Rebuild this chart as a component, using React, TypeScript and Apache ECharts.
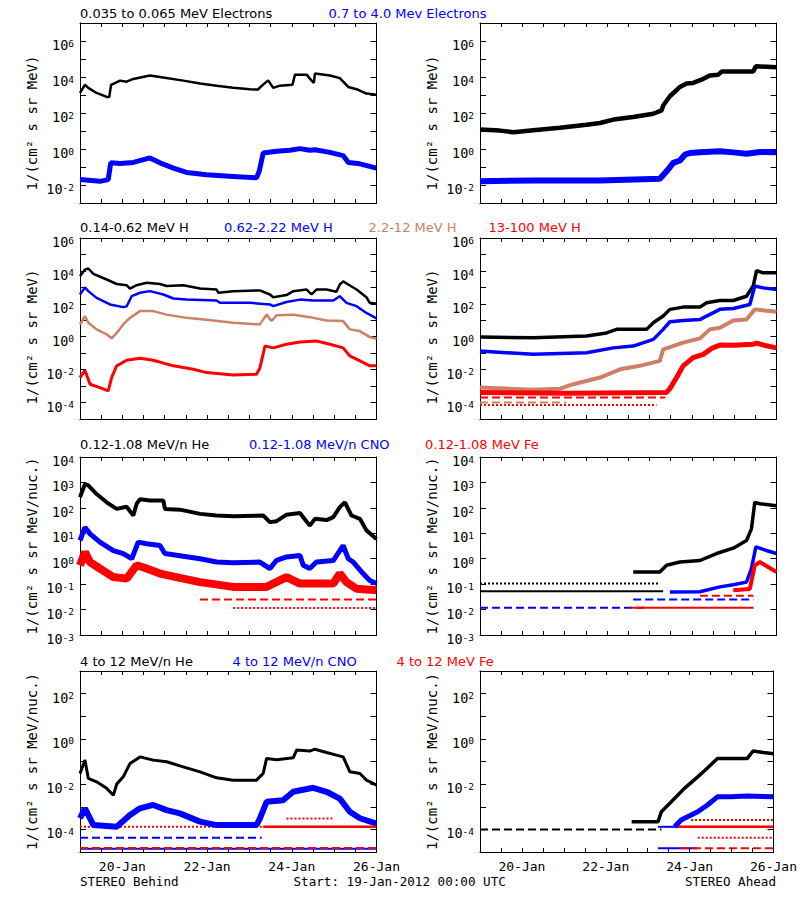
import React, { useEffect, useRef } from 'react';
import * as echarts from 'echarts';

type P = [number, number];

// x: hours since 19-Jan-2012 00:00 UTC, y: intensity

// ---- Row 1: electrons ----
const elecLowB: P[] = [[0,1.3e3],[2.8,3.7e3],[4.7,2.5e3],[9.4,1.3e3],[15.1,7.8e2],[16.6,7.8e2],[17.6,3.7e3],[22.7,6.3e3],[26.4,5.5e3],[30.2,7.8e3],[39.6,1.2e4],[45.3,1.0e4],[58.5,6.3e3],[68,4.3e3],[77.4,3.3e3],[86.8,2.5e3],[96.3,2.1e3],[101.0,2.0e3],[101.9,2.6e3],[106.6,6.5e3],[109.5,2.5e3],[113.3,3.3e3],[120.4,3.7e3],[121.8,1.35e4],[128.4,1.35e4],[131.2,6.3e3],[132.5,4.7e3],[133.1,1.55e4],[141.6,1.2e4],[147.2,8.7e3],[152.0,2.8e3],[156.7,2.1e3],[162.3,1.2e3],[168,1.05e3]];
const elecHighB: P[] = [[0,2.0e-2],[11.3,1.6e-2],[16.0,2.0e-2],[17.4,1.7e-1],[22.7,1.55e-1],[30.2,1.8e-1],[39.6,3.2e-1],[45.3,1.7e-1],[52.9,8.7e-2],[60.4,5.0e-2],[71.7,3.7e-2],[86.8,3.0e-2],[100.0,2.5e-2],[101.6,6.0e-2],[103.8,6.0e-1],[111.4,7.4e-1],[118.9,8.5e-1],[124.6,1.05],[130.2,8.5e-1],[133.1,9.1e-1],[141.6,6.5e-1],[149.1,4.3e-1],[152.0,1.8e-1],[158.6,1.5e-1],[168,8.7e-2]];
const elecLowA: P[] = [[0,1.2e1],[11.3,1.05e1],[18.9,8.5],[30.2,1.1e1],[45.3,1.5e1],[60.4,2.2e1],[68,2.8e1],[75.5,4.3e1],[86.8,6.0e1],[98.2,9.1e1],[102.9,1.4e2],[103.8,2.6e2],[107.6,8.5e2],[113.3,2.8e3],[117.0,4.3e3],[120.8,4.7e3],[125.5,7.1e3],[130.2,1.2e4],[135.0,1.35e4],[136.9,2.0e4],[154.8,2.0e4],[156.3,3.9e4],[168,3.5e4]];
const elecHighA: P[] = [[0,1.6e-2],[30.2,1.8e-2],[68,1.8e-2],[101.9,2.2e-2],[105.7,5.8e-2],[109.5,1.7e-1],[113.3,2.3e-1],[116.1,4.9e-1],[118.9,6.0e-1],[124.6,6.5e-1],[135.9,7.4e-1],[143.5,6.5e-1],[151.0,5.5e-1],[158.6,6.8e-1],[168,6.5e-1]];

// ---- Row 2: protons ----
const h1B: P[] = [[0,4.8e3],[2.8,1.2e4],[4.7,1.4e4],[7.6,6.6e3],[15.1,3.0e3],[20.8,1.6e3],[26.4,1.35e3],[28.3,8.5e2],[32.1,1.35e3],[37.8,1.9e3],[45.3,1.6e3],[49.1,1.2e3],[58.5,1.35e3],[68,8.5e2],[77.4,7.4e2],[78.3,4.7e2],[86.8,5.9e2],[101.9,6.5e2],[107.6,3.7e2],[109.5,2.5e2],[117.0,3.4e2],[120.8,5.9e2],[128.4,7.4e2],[131.2,3.7e2],[134.0,7.4e2],[139.7,7.4e2],[145.3,5.4e2],[147.2,1.5e3],[149.1,2.3e3],[152.0,1.5e3],[156.7,7.4e2],[162.3,2.5e2],[164.2,1.15e2],[168,1.0e2]];
const h2B: P[] = [[0,3.7e2],[2.8,1.0e3],[4.7,5.9e2],[9.4,2.3e2],[17.0,9.1e1],[24.5,6.3e1],[26.4,7.0e1],[29.3,2.9e2],[34.0,4.7e2],[39.6,5.9e2],[47.2,3.7e2],[52.9,2.1e2],[60.4,1.8e2],[77.4,1.6e2],[79.3,1.15e2],[96.3,1.15e2],[107.6,9.1e1],[109.5,7.2e1],[117.0,1.3e2],[124.6,1.8e2],[132.1,1.6e2],[143.5,1.6e2],[147.2,2.9e2],[151.0,1.15e2],[156.7,7.2e1],[162.3,2.8e1],[168,1.3e1]];
const h3B: P[] = [[0,5.6],[2.8,1.8e1],[4.7,7.1],[9.4,2.8],[15.1,1.4],[17.9,8.0e-1],[20.8,1.7],[24.5,5.6],[28.3,1.4e1],[34.0,3.6e1],[41.5,3.6e1],[49.1,2.2e1],[60.4,1.4e1],[75.5,9.8],[86.8,7.1],[101.9,5.6],[105.7,2.2e1],[108.5,9.0],[111.4,2.0e1],[120.8,2.2e1],[130.2,1.55e1],[139.7,9.8],[149.1,8.9],[152.9,2.8],[158.6,2.2],[164.2,9.5e-1],[168,7.6e-1]];
const h4B: P[] = [[0,3.3e-3],[2.8,9.1e-3],[5.7,1.3e-3],[11.3,8.1e-4],[16.0,5.1e-4],[17.9,3.3e-3],[20.8,1.7e-2],[26.4,3.7e-2],[34.0,4.9e-2],[41.5,3.7e-2],[52.9,1.7e-2],[64.2,1.05e-2],[71.7,6.6e-3],[86.8,4.8e-3],[100.0,5.2e-3],[101.9,1.2e-2],[104.8,2.7e-1],[109.5,2.1e-1],[117.0,3.5e-1],[124.6,4.8e-1],[134.0,5.5e-1],[141.6,3.5e-1],[149.1,2.1e-1],[152.9,6.8e-2],[158.6,3.4e-2],[164.2,1.7e-2],[168,1.7e-2]];
const h1A: P[] = [[0,9.5e-1],[30.2,8.7e-1],[60.4,1.1],[71.7,1.7],[77.4,2.8],[86.8,2.8],[94.4,2.8],[98.2,7.1],[103.8,1.8e1],[107.6,4.6e1],[115.1,6.3e1],[124.6,6.3e1],[128.4,1.15e2],[135.9,1.6e2],[143.5,1.6e2],[151.0,2.9e2],[154.8,1.2e3],[156.7,1.05e4],[160.4,7.6e3],[168,7.6e3]];
const h2A: P[] = [[0,1.35e-1],[30.2,8.5e-2],[60.4,1.07e-1],[75.5,2.1e-1],[86.8,2.7e-1],[98.2,6.9e-1],[103.8,2.8],[107.6,8.1],[115.1,9.8],[124.6,1.1e1],[128.4,1.8e1],[135.9,4.6e1],[143.5,5.2e1],[152.9,9.1e1],[155.7,1.2e3],[160.4,9.3e2],[168,7.4e2]];
const h3A: P[] = [[0,8.1e-4],[30.2,6.0e-4],[45.3,7.0e-4],[52.9,1.3e-3],[68,3.3e-3],[79.3,1.05e-2],[90.6,1.7e-2],[101.9,3.4e-2],[103.8,1.7e-1],[115.1,4.4e-1],[124.6,7.9e-1],[130.2,2.8],[135.9,3.5],[143.5,9.8],[151.0,1.1e1],[155.7,4.6e1],[168,3.3e1]];
const h3AFloor: P[] = [[0,1.0e-4],[49,1.0e-4]];
const h4A: P[] = [[0,4.1e-4],[49.1,3.7e-4],[105.7,4.1e-4],[107.6,7.0e-4],[111.4,3.3e-3],[115.1,1.7e-2],[120.8,5.4e-2],[126.5,8.5e-2],[131.2,1.95e-1],[135.9,3.1e-1],[143.5,3.0e-1],[154.8,3.5e-1],[156.7,4.1e-1],[162.3,2.8e-1],[168,2.1e-1]];
const h4AFloor1: P[] = [[0,2.0e-4],[105,2.0e-4]];
const h4AFloor2: P[] = [[0,7.0e-5],[100,7.0e-5]];

// ---- Row 3: 0.12-1.08 MeV/n ions ----
const heLoB: P[] = [[0,2.6e2],[2.8,8.6e2],[4.7,7.6e2],[9.4,3.5e2],[15.1,1.65e2],[20.8,9.1e1],[26.4,1.1e2],[30.2,5.0e1],[32.1,1.45e2],[34.0,2.2e2],[39.6,1.95e2],[47.2,1.95e2],[48.1,9.1e1],[56.6,8.5e1],[68,5.8e1],[77.4,5.0e1],[86.8,4.7e1],[103.8,5.0e1],[107.6,2.75e1],[111.4,3.0e1],[117.0,5.4e1],[124.6,6.3e1],[130.2,2.0e1],[133.1,3.7e1],[139.7,3.3e1],[143.5,4.3e1],[147.2,1.07e2],[150.1,1.65e2],[153.8,5.0e1],[158.6,3.7e1],[162.3,1.3e1],[168,6.0]];
const cnoLoB: P[] = [[0,5.2],[2.8,1.7e1],[5.7,9.5],[11.3,4.5],[18.9,2.1],[24.5,1.6],[29.3,1.0],[33.0,4.5],[37.8,3.9],[45.3,3.3],[48.1,1.6],[58.5,1.26],[68,1.0],[77.4,7.4e-1],[86.8,6.9e-1],[101.9,7.4e-1],[107.6,4.1e-1],[111.4,8.7e-1],[117.0,1.17],[124.6,1.35],[126.5,5.5e-1],[130.2,4.1e-1],[134.0,7.4e-1],[143.5,8.5e-1],[149.1,3.3],[152.0,1.0],[154.8,7.4e-1],[160.4,2.6e-1],[164.2,1.4e-1],[168,1.05e-1]];
const feLoB: P[] = [[0,5.5e-1],[2.8,1.8],[5.7,7.4e-1],[11.3,4.1e-1],[18.9,1.9e-1],[26.4,1.65e-1],[32.1,5.5e-1],[37.8,4.1e-1],[45.3,2.6e-1],[58.5,1.65e-1],[68,1.2e-1],[86.8,7.8e-2],[105.7,7.8e-2],[117.0,1.9e-1],[124.6,1.05e-1],[143.5,1.05e-1],[147.2,2.6e-1],[151.0,1.2e-1],[156.7,6.6e-2],[168,5.8e-2]];
const feLoBFloor1: P[] = [[68,2.5e-2],[168,2.5e-2]];
const feLoBFloor2: P[] = [[86.8,1.15e-2],[168,1.15e-2]];
const heLoAFloor: P[] = [[0,5.2e-2],[103.8,5.2e-2]];
const heLoABand: P[] = [[0,1.05e-1],[101.9,1.05e-1]];
const heLoA: P[] = [[86.8,3.0e-1],[101.9,3.0e-1],[105.7,5.5e-1],[113.3,7.4e-1],[124.6,8.5e-1],[134.0,1.6],[143.5,2.6],[151.0,5.2],[153.8,1.5e1],[155.7,1.65e2],[158.6,1.45e2],[168,1.2e2]];
const cnoLoAFloor1: P[] = [[0,1.17e-2],[95,1.17e-2]];
const cnoLoAFloor2: P[] = [[86.8,2.5e-2],[155,2.5e-2]];
const cnoLoA: P[] = [[107.6,4.9e-2],[124.6,5.0e-2],[135.9,7.8e-2],[143.5,9.5e-2],[151.0,1.2e-1],[153.8,4.1e-1],[156.3,2.9],[162.3,2.1],[168,1.6]];
const feLoAFloor1: P[] = [[85,1.17e-2],[155,1.17e-2]];
const feLoAFloor2: P[] = [[124.6,3.5e-2],[155,3.5e-2]];
const feLoA: P[] = [[143.5,5.7e-2],[152.9,6.5e-2],[155.7,5.5e-1],[158.6,7.4e-1],[168,3.0e-1]];

// ---- Row 4: 4-12 MeV/n ions ----
const heHiB: P[] = [[0,2.95e-2],[2.8,1.15e-1],[4.7,1.8e-2],[9.4,1.26e-2],[15.1,6.5e-3],[18.9,3.2e-3],[20.8,1.0e-2],[24.5,2.1e-2],[28.3,8.1e-2],[34.0,1.6e-1],[41.5,1.15e-1],[49.1,9.8e-2],[58.5,5.8e-2],[68,3.5e-2],[77.4,1.9e-2],[86.8,1.5e-2],[100.0,1.5e-2],[103.8,3.0e-2],[105.7,1.35e-1],[111.4,1.2e-1],[120.8,1.45e-1],[122.7,3.2e-1],[130.2,2.9e-1],[133.1,3.5e-1],[139.7,2.5e-1],[149.1,1.6e-1],[152.9,3.5e-2],[158.6,2.95e-2],[162.3,1.5e-2],[168,9.1e-3]];
const cnoHiB: P[] = [[0,3.1e-4],[2.8,8.5e-4],[7.6,1.55e-4],[20.8,1.3e-4],[28.3,4.3e-4],[34.0,8.5e-4],[41.5,1.2e-3],[49.1,7.1e-4],[56.6,5.1e-4],[68,2.2e-4],[77.4,1.55e-4],[100.0,1.55e-4],[101.9,3.0e-4],[105.7,1.65e-3],[115.1,1.95e-3],[120.8,4.6e-3],[132.1,6.9e-3],[139.7,4.6e-3],[147.2,2.3e-3],[152.9,6.0e-4],[158.6,3.1e-4],[168,1.8e-4]];
const cnoHiBFloor1: P[] = [[0,4.3e-5],[103,4.3e-5]];
const cnoHiBFloor2: P[] = [[0,1.4e-5],[168,1.4e-5]];
const feHiBFloor1: P[] = [[0,1.3e-4],[103,1.3e-4]];
const feHiBBand: P[] = [[103.8,1.3e-4],[168,1.3e-4]];
const feHiBUpper: P[] = [[117,3.0e-4],[143,3.0e-4]];
const feHiBFloor2: P[] = [[0,1.5e-5],[168,1.5e-5]];
const heHiAFloor: P[] = [[0,1.0e-4],[103.8,1.0e-4]];
const heHiA: P[] = [[86.8,2.2e-4],[101.9,2.2e-4],[103.8,6.0e-4],[109.5,1.65e-3],[117.0,6.5e-3],[124.6,2.1e-2],[130.2,5.2e-2],[135.9,1.35e-1],[143.5,1.35e-1],[152.9,1.35e-1],[156.3,2.9e-1],[162.3,2.5e-1],[168,2.2e-1]];
const cnoHiAFloor1: P[] = [[101.9,1.3e-4],[115.1,1.3e-4]];
const cnoHiAFloor2: P[] = [[101.9,1.45e-5],[124.6,1.45e-5]];
const cnoHiA: P[] = [[111.4,1.3e-4],[115.1,2.6e-4],[124.6,6.0e-4],[130.2,1.2e-3],[135.9,2.75e-3],[143.5,2.75e-3],[152.9,3.0e-3],[168,2.75e-3]];
const feHiABand: P[] = [[113.3,1.3e-4],[168,1.3e-4]];
const feHiAUpper: P[] = [[120.8,2.6e-4],[168,2.6e-4]];
const feHiALow: P[] = [[124.6,4.3e-5],[168,4.3e-5]];
const feHiAFloor: P[] = [[115,1.45e-5],[168,1.45e-5]];

// ---- axes ----
const yRanges: P[] = [[1e-3, 1e7], [1e-5, 1e6], [1e-3, 1e4], [1e-5, 1e3]];
const yLabelStep = [2, 2, 1, 2];
const yNames = ['1/(cm² s sr MeV)', '1/(cm² s sr MeV)', '1/(cm² s sr MeV/nuc.)', '1/(cm² s sr MeV/nuc.)'];
const dayTicks = ['20-Jan', '22-Jan', '24-Jan', '26-Jan'];

const BLACK = '#000000';
const BLUE = '#0000ff';
const RED = '#ff0000';
const TAN = '#cc8066';

type SDef = { g: number; color: string; data: P[]; w: number; dash?: 'dotted' | 'dashed' };
const seriesDefs: SDef[] = [
  { g: 0, color: BLACK, data: elecLowB, w: 2.5 },
  { g: 0, color: BLUE, data: elecHighB, w: 5 },
  { g: 1, color: BLACK, data: elecLowA, w: 4.5 },
  { g: 1, color: BLUE, data: elecHighA, w: 6 },
  { g: 2, color: BLACK, data: h1B, w: 2.5 },
  { g: 2, color: BLUE, data: h2B, w: 2.5 },
  { g: 2, color: TAN, data: h3B, w: 2.5 },
  { g: 2, color: RED, data: h4B, w: 3 },
  { g: 3, color: TAN, data: h3AFloor, w: 2, dash: 'dashed' },
  { g: 3, color: RED, data: h4AFloor1, w: 2, dash: 'dashed' },
  { g: 3, color: RED, data: h4AFloor2, w: 2, dash: 'dotted' },
  { g: 3, color: BLACK, data: h1A, w: 3.5 },
  { g: 3, color: BLUE, data: h2A, w: 3.5 },
  { g: 3, color: TAN, data: h3A, w: 4 },
  { g: 3, color: RED, data: h4A, w: 5 },
  { g: 4, color: BLACK, data: heLoB, w: 4 },
  { g: 4, color: BLUE, data: cnoLoB, w: 5 },
  { g: 4, color: RED, data: feLoBFloor1, w: 2, dash: 'dashed' },
  { g: 4, color: RED, data: feLoBFloor2, w: 2, dash: 'dotted' },
  { g: 4, color: RED, data: feLoB, w: 8 },
  { g: 5, color: BLACK, data: heLoAFloor, w: 2 },
  { g: 5, color: BLACK, data: heLoABand, w: 2, dash: 'dotted' },
  { g: 5, color: BLACK, data: heLoA, w: 3.5 },
  { g: 5, color: BLUE, data: cnoLoAFloor1, w: 2, dash: 'dashed' },
  { g: 5, color: BLUE, data: cnoLoAFloor2, w: 2, dash: 'dashed' },
  { g: 5, color: RED, data: feLoAFloor1, w: 2 },
  { g: 5, color: RED, data: feLoAFloor2, w: 2, dash: 'dashed' },
  { g: 5, color: BLUE, data: cnoLoA, w: 3.5 },
  { g: 5, color: RED, data: feLoA, w: 4 },
  { g: 6, color: BLUE, data: cnoHiBFloor1, w: 2, dash: 'dashed' },
  { g: 6, color: BLUE, data: cnoHiBFloor2, w: 2 },
  { g: 6, color: RED, data: feHiBFloor1, w: 2, dash: 'dotted' },
  { g: 6, color: RED, data: feHiBFloor2, w: 2, dash: 'dashed' },
  { g: 6, color: BLUE, data: cnoHiB, w: 6 },
  { g: 6, color: RED, data: feHiBBand, w: 2.5 },
  { g: 6, color: RED, data: feHiBUpper, w: 2, dash: 'dotted' },
  { g: 6, color: BLACK, data: heHiB, w: 3 },
  { g: 7, color: BLACK, data: heHiAFloor, w: 2, dash: 'dashed' },
  { g: 7, color: BLUE, data: cnoHiAFloor1, w: 2 },
  { g: 7, color: BLUE, data: cnoHiAFloor2, w: 2 },
  { g: 7, color: RED, data: feHiAFloor, w: 2, dash: 'dashed' },
  { g: 7, color: RED, data: feHiALow, w: 2, dash: 'dotted' },
  { g: 7, color: RED, data: feHiAUpper, w: 2, dash: 'dotted' },
  { g: 7, color: RED, data: feHiABand, w: 2.5 },
  { g: 7, color: BLUE, data: cnoHiA, w: 5 },
  { g: 7, color: BLACK, data: heHiA, w: 3.5 },
];

// ---- text ----
type T = { text: string; color: string };
const rowTitles: T[][] = [
  [{ text: '0.035 to 0.065 MeV Electrons', color: BLACK }, { text: '0.7 to 4.0 Mev Electrons', color: BLUE }],
  [{ text: '0.14-0.62 MeV H', color: BLACK }, { text: '0.62-2.22 MeV H', color: BLUE }, { text: '2.2-12 MeV H', color: TAN }, { text: '13-100 MeV H', color: RED }],
  [{ text: '0.12-1.08 MeV/n He', color: BLACK }, { text: '0.12-1.08 MeV/n CNO', color: BLUE }, { text: '0.12-1.08 MeV Fe', color: RED }],
  [{ text: '4 to 12 MeV/n He', color: BLACK }, { text: '4 to 12 MeV/n CNO', color: BLUE }, { text: '4 to 12 MeV Fe', color: RED }],
];
const footLeft = 'STEREO Behind';
const footMid = 'Start: 19-Jan-2012 00:00 UTC';
const footRight = 'STEREO Ahead';

// ---- layout ----
const COL_LEFT = [80, 480];
const PANEL_W = 296.5;
const ROW_TOP = [23, 238, 457, 671];
const ROW_H = [180, 181, 178, 181];
const TITLE_Y = [13, 227.5, 444.5, 661];
const TITLE_X = [[80, 328.5], [80, 224, 368.5, 488.5], [80, 249, 425], [80, 232.5, 396.5]];
const NAME_SHIFT = [20, 17, 0, 0];
const MONO = '"DejaVu Sans Mono", monospace';
const SANS = '"DejaVu Sans", sans-serif';

function buildOption() {
  const grid: any[] = [];
  const xAxis: any[] = [];
  const yAxis: any[] = [];
  const series: any[] = [];
  for (let r = 0; r < 4; r++) {
    for (let c = 0; c < 2; c++) {
      const g = r * 2 + c;
      grid.push({ left: COL_LEFT[c], top: ROW_TOP[r], width: PANEL_W, height: ROW_H[r] });
      const xCommon = {
        type: 'value', gridIndex: g, min: 0, max: 168, interval: 12,
        splitLine: { show: false },
        axisLine: { show: true, onZero: false, lineStyle: { color: '#000', width: 1 } },
        axisTick: { show: true, inside: true, length: 4, lineStyle: { color: '#000', width: 1 } },
      };
      xAxis.push({
        ...xCommon, position: 'bottom',
        axisLabel: {
          show: r === 3, color: '#000', fontFamily: MONO, fontSize: 13, margin: 8,
          showMinLabel: true, showMaxLabel: true, hideOverlap: false,
          formatter: (v: number) => {
            const d = Math.round(v / 24);
            if (Math.abs(v - d * 24) > 1e-6 || d % 2 !== 1) return '';
            return dayTicks[(d - 1) / 2] ?? '';
          },
        },
      });
      xAxis.push({ ...xCommon, position: 'top', axisLabel: { show: false } });
      const [ymin, ymax] = yRanges[r];
      const span = Math.round(Math.log10(ymax / ymin));
      const step = yLabelStep[r];
      const yCommon = {
        type: 'log', logBase: 10, gridIndex: g, min: ymin, max: ymax, interval: 1, splitNumber: span,
        splitLine: { show: false }, minorTick: { show: false },
        axisLine: { show: true, onZero: false, lineStyle: { color: '#000', width: 1 } },
        axisTick: { show: true, inside: true, length: 6, lineStyle: { color: '#000', width: 1 } },
      };
      yAxis.push({
        ...yCommon, position: 'left',
        name: yNames[r], nameLocation: 'middle', nameGap: 41, nameRotate: 90,
        nameTextStyle: { color: '#000', fontFamily: MONO, fontSize: 14, padding: [0, NAME_SHIFT[r], 0, 0] },
        axisLabel: {
          color: '#000', margin: 6, showMinLabel: true, showMaxLabel: true, padding: [8, 0, 0, 0],
          formatter: (v: number) => {
            const e = Math.round(Math.log10(v));
            if ((((e % step) + step) % step) !== 0) return '';
            return `{b|10}{e|${e}}`;
          },
          rich: {
            b: { fontFamily: MONO, fontSize: 13.5, color: '#000', lineHeight: 14, verticalAlign: 'bottom' },
            e: { fontFamily: MONO, fontSize: 9.5, color: '#000', lineHeight: 10, verticalAlign: 'top', padding: [0, 0, 6, 0] },
          },
        },
      });
      yAxis.push({ ...yCommon, position: 'right', axisLabel: { show: false } });
    }
  }
  seriesDefs.forEach((s) => {
    series.push({
      type: 'line', xAxisIndex: s.g * 2, yAxisIndex: s.g * 2, data: s.data,
      showSymbol: false, symbol: 'none', clip: true, silent: true,
      lineStyle: { color: s.color, width: s.w, type: s.dash ?? 'solid' },
      itemStyle: { color: s.color },
    });
  });
  const graphic: any[] = [];
  const textStyle = (text: string, fill: string, align: string, font: string) => ({
    text, fill, font, lineHeight: 12, align, verticalAlign: 'middle',
  });
  rowTitles.forEach((row, r) => {
    row.forEach((t, i) => {
      graphic.push({ type: 'text', x: TITLE_X[r][i], y: TITLE_Y[r], style: textStyle(t.text, t.color, 'left', `13px ${SANS}`) });
    });
  });
  const footFont = `12.6px ${MONO}`;
  graphic.push({ type: 'text', x: 80, y: 881.5, style: textStyle(footLeft, '#000', 'left', footFont) });
  graphic.push({ type: 'text', x: 293.5, y: 881.5, style: textStyle(footMid, '#000', 'left', footFont) });
  graphic.push({ type: 'text', x: 776, y: 881.5, style: textStyle(footRight, '#000', 'right', footFont) });

  return { animation: false, backgroundColor: '#ffffff', grid, xAxis, yAxis, series, graphic };
}

export default function App() {
  const ref = useRef<HTMLDivElement>(null);
  useEffect(() => {
    if (!ref.current) return;
    const chart = echarts.init(ref.current, null, { renderer: 'svg' });
    chart.setOption(buildOption() as any);
    return () => chart.dispose();
  }, []);
  return <div ref={ref} style={{ position: 'fixed', left: 0, top: 0, width: 800, height: 900, background: '#fff' }} />;
}
